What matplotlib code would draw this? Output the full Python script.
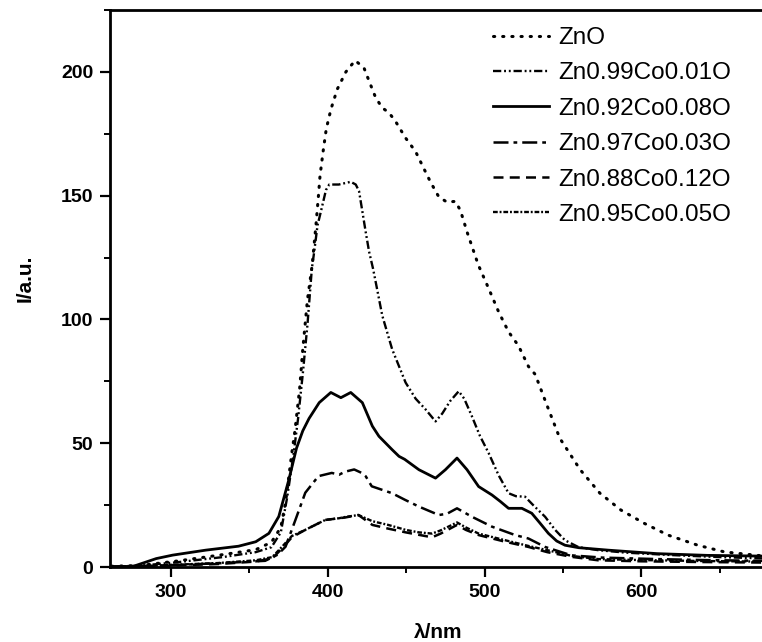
import matplotlib
matplotlib.use("Agg")
import matplotlib.pyplot as plt
from matplotlib.ticker import MultipleLocator

zno_x = [262, 280, 305, 333, 354, 364, 370, 373, 377, 379, 382, 384, 387, 390, 392.4, 394, 395, 397,
         399, 402, 406, 411.5, 417.4, 423, 426.3, 430.5, 434.7, 439, 443.2, 449.6, 456, 460.2, 465.5,
         470.8, 476, 481.4, 484.6, 489, 496, 502.6, 509, 515.3, 521.6, 528, 532.3, 540, 548, 561,
         573.6, 587, 602, 617, 636, 653, 677]
zno_y = [0.3, 0.6, 2.5, 5, 7, 10, 16, 26, 46, 55, 72, 88, 108, 122, 138, 150, 158, 168,
         177, 185, 193, 200, 204.6, 201.7, 196.3, 189.6, 185.5, 183.5, 180, 173.3, 167.8, 162.3, 155.5,
         149.5, 147.4, 147.7, 144, 135, 122, 112.5, 103, 95, 89.4, 81, 77.8, 65, 52, 39.3,
         29.8, 23, 17.6, 12.9, 8.8, 6.1, 4.5]

co01_x = [262, 280, 305, 333, 354, 364, 370, 374, 378, 381, 384, 387, 389.8, 391.3, 393.4, 395.6,
          398.8, 400.9, 407, 414.6, 417.8, 419.9, 422, 424.1, 426.3, 428.8, 430.5, 434.7, 441, 449.6,
          456, 462.3, 468.7, 473, 478, 483.5, 487, 491.9, 497, 502.6, 509, 515.3, 520, 525.8, 531,
          538.6, 545, 551.3, 560, 572.5, 590, 620, 650, 677]
co01_y = [0.2, 0.5, 2, 4, 6, 8, 14, 28, 45, 60, 78, 98, 120.6, 127.4, 138, 143.7,
          152.3, 154.5, 154.5, 155.6, 154.5, 151.8, 143.7, 135.5, 127.4, 120.6, 115.2, 101.6, 88, 74.5,
          68, 63.7, 58.8, 62, 67, 71, 68, 60.9, 53, 46, 37, 29.8, 28.6, 28.4, 25,
          20.3, 15, 10.8, 8, 6.8, 5.8, 4.8, 4, 3.5]

co08_x = [262, 276, 290.5, 301, 322, 343, 354, 362.4, 368.7, 375, 380, 384, 388, 394.5, 401.9, 408.3,
          414.6, 422, 428.4, 432.6, 441, 445.4, 449, 458.1, 468.7, 475, 482.4, 488.8, 496.2, 504.7,
          510, 515.3, 523.8, 530.1, 535, 540.7, 546, 551.3, 560, 579, 610, 642, 677]
co08_y = [0, 0.3, 3.4, 4.8, 6.8, 8.4, 10.2, 13.6, 20.4, 35, 48, 55, 60, 66.4, 70.5, 68.4,
          70.5, 66.4, 56.9, 52.8, 47.4, 44.7, 43.5, 39.3, 35.9, 39.3, 44, 39.3, 32.5, 29.1,
          26.5, 23.7, 23.7, 21.7, 18, 13.6, 10.5, 8.8, 7.8, 6.8, 5.4, 4.7, 4.4]

co03_x = [262, 290, 330, 360, 368, 373, 379.3, 385.6, 394, 402.5, 407.2, 411, 416.8, 421.6, 424.2,
          428, 441, 449, 458.1, 470.8, 476, 482.4, 491.9, 504.7, 519.5, 528, 538.6, 555.5, 575, 610,
          640, 677]
co03_y = [0, 0.5, 1.5, 2.5, 5, 8.2, 19, 30, 36.7, 38, 37.3, 38.5, 39.4, 38, 36.6,
          32.6, 29.8, 27.2, 24.4, 21, 21.5, 23.7, 20.3, 16.3, 12.9, 11.5, 8.1, 4.7, 3.8, 3.2,
          2.8, 2.5]

low_x = [262, 290, 330, 354, 364.5, 370.8, 377, 385.6, 398.3, 407.2, 411, 419.5, 428.4, 438.5,
         449.6, 458, 466.5, 472, 482.4, 488, 496.2, 513.2, 528, 540, 555.5, 572.5, 600, 640, 677]
co12_y = [0, 0.4, 1.2, 2.2, 3.5, 7.5, 12, 15, 19, 19.7, 20, 21, 17, 15.5,
          14, 13, 12, 13.5, 17, 15, 12.9, 10.2, 8.1, 6, 4.1, 2.7, 2.3, 2, 1.8]
co05_y = [0, 0.6, 1.6, 2.7, 4, 8.2, 12.5, 15, 19, 19.7, 20.2, 21, 18.5, 17,
          15, 14, 13.5, 14.8, 18, 16, 13.5, 10.8, 8.5, 6.8, 4.5, 3.2, 2.8, 2.4, 2.2]

W, H = 762, 642
fig = plt.figure(figsize=(W / 100, H / 100), dpi=100)
ax = fig.add_axes([110 / W, 75 / H, 652 / W, 557 / H])

ax.plot(zno_x, zno_y, color='k', lw=2.2, linestyle=(0, (0.4, 2.6)),
        dash_capstyle='round', label='ZnO')
ax.plot(co01_x, co01_y, color='k', lw=1.7, linestyle=(0, (3.5, 1.2, 0.8, 1.2, 0.8, 1.2)),
        label='Zn0.99Co0.01O')
ax.plot(co08_x, co08_y, color='k', lw=2.0, linestyle='-', label='Zn0.92Co0.08O')
ax.plot(co03_x, co03_y, color='k', lw=1.8, linestyle=(0, (6, 2, 1.5, 2)),
        label='Zn0.97Co0.03O')
ax.plot(low_x, co12_y, color='k', lw=1.8, linestyle=(0, (4, 2.5)), label='Zn0.88Co0.12O')
ax.plot(low_x, co05_y, color='k', lw=1.7, linestyle=(0, (2, 0.8, 0.8, 0.8)),
        label='Zn0.95Co0.05O')

ax.set_xlim(261, 677)
ax.set_ylim(0, 225)

ax.spines['right'].set_visible(False)
for s in ['left', 'bottom', 'top']:
    ax.spines[s].set_linewidth(2.0)

ax.xaxis.set_major_locator(MultipleLocator(100))
ax.xaxis.set_minor_locator(MultipleLocator(50))
ax.yaxis.set_major_locator(MultipleLocator(50))
ax.yaxis.set_minor_locator(MultipleLocator(25))
ax.tick_params(which='major', direction='out', length=7, width=1.6, pad=5,
               top=False, right=False)
ax.tick_params(which='minor', direction='out', length=4, width=1.4,
               top=False, right=False)
for lab in ax.get_xticklabels() + ax.get_yticklabels():
    lab.set_fontfamily('Liberation Sans')
    lab.set_fontweight('bold')
    lab.set_fontsize(14)

fig.text(438 / W, 1 - 633 / H, 'λ/nm', ha='center', va='center',
         family='Liberation Sans', fontweight='bold', fontsize=15)
fig.text(25 / W, 1 - 278 / H, 'I/a.u.', ha='center', va='center', rotation=90,
         family='Liberation Sans', fontweight='bold', fontsize=15)

leg = ax.legend(loc='upper left', bbox_to_anchor=(493 / W, 1 - 27 / H),
                bbox_transform=fig.transFigure, frameon=False, borderpad=0,
                borderaxespad=0, handlelength=2.3, handletextpad=0.4,
                labelspacing=0.55, prop={'family': 'Liberation Sans', 'size': 17.5})

fig.savefig('out.png', dpi=100)
